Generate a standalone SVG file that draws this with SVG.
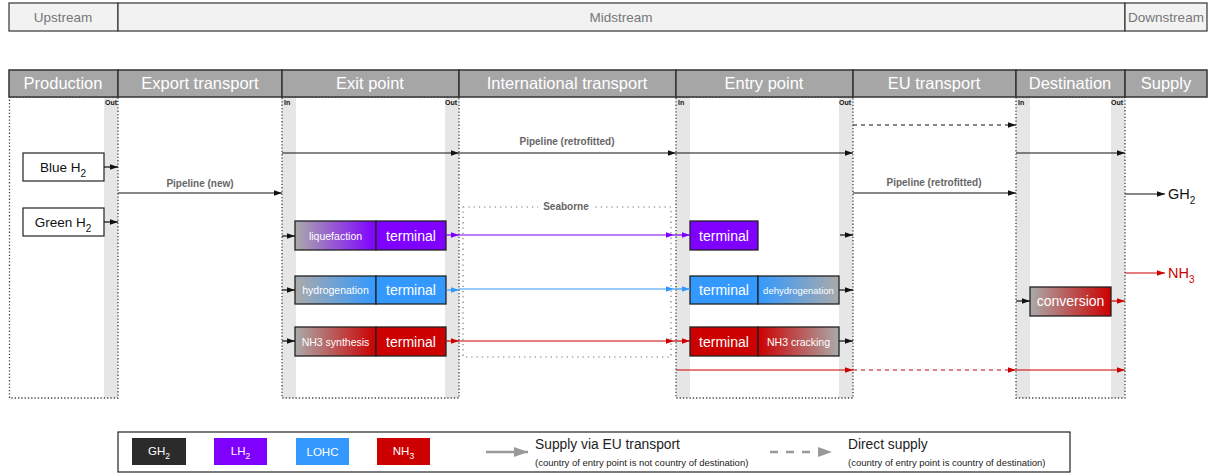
<svg xmlns="http://www.w3.org/2000/svg" width="1208" height="475" viewBox="0 0 1208 475">
<style>
text{font-family:"Liberation Sans",Arial,sans-serif}
.top{fill:#f2f2f2;stroke:#333;stroke-width:1.2}
.topt{font-size:13.5px;fill:#777;text-anchor:middle}
.hdr{fill:#a6a6a6;stroke:#333;stroke-width:1.5}
.hdrt{font-size:16.5px;fill:#fff;text-anchor:middle}
.col{fill:none;stroke:#444;stroke-width:1.3;stroke-dasharray:1.3 2}
.bar{fill:#e6e6e6}
.io{font-size:7px;font-weight:bold;fill:#111}
.node{stroke:#222;stroke-width:1.3}
.nt{fill:#fff;text-anchor:middle}
.big{font-size:14px}
.sm{font-size:10.5px}
.blk{stroke:#111;stroke-width:1.2;fill:none}
.pur{stroke:#7f00ff;stroke-width:1.2;fill:none}
.blu{stroke:#3399ff;stroke-width:1.2;fill:none}
.red{stroke:#cc0000;stroke-width:1.2;fill:none}
.dash{stroke-dasharray:4 4}
.lbl{font-size:10px;font-weight:bold;fill:#666;text-anchor:middle}
.prod{fill:#fff;stroke:#222;stroke-width:1.2}
.prodt{font-size:13.5px;fill:#111;text-anchor:middle}
</style>
<defs>
<marker id="aB" viewBox="0 0 10 10" refX="10" refY="5" markerWidth="8" markerHeight="8" markerUnits="userSpaceOnUse" orient="auto"><path d="M0,1.5 L10,5 L0,8.5 z" fill="#111"/></marker>
<marker id="aP" viewBox="0 0 10 10" refX="10" refY="5" markerWidth="8" markerHeight="8" markerUnits="userSpaceOnUse" orient="auto"><path d="M0,1.5 L10,5 L0,8.5 z" fill="#7f00ff"/></marker>
<marker id="aL" viewBox="0 0 10 10" refX="10" refY="5" markerWidth="8" markerHeight="8" markerUnits="userSpaceOnUse" orient="auto"><path d="M0,1.5 L10,5 L0,8.5 z" fill="#3399ff"/></marker>
<marker id="aR" viewBox="0 0 10 10" refX="10" refY="5" markerWidth="8" markerHeight="8" markerUnits="userSpaceOnUse" orient="auto"><path d="M0,1.5 L10,5 L0,8.5 z" fill="#cc0000"/></marker>
<marker id="aG" viewBox="0 0 10 10" refX="10" refY="5" markerWidth="14" markerHeight="14" markerUnits="userSpaceOnUse" orient="auto"><path d="M0,1.5 L10,5 L0,8.5 z" fill="#999"/></marker>
<linearGradient id="gP" x1="0" x2="1" y1="0" y2="0"><stop offset="0" stop-color="#aaa"/><stop offset="1" stop-color="#7f00ff"/></linearGradient>
<linearGradient id="gL" x1="0" x2="1" y1="0" y2="0"><stop offset="0" stop-color="#aaa"/><stop offset="1" stop-color="#3399ff"/></linearGradient>
<linearGradient id="gR" x1="0" x2="1" y1="0" y2="0"><stop offset="0" stop-color="#aaa"/><stop offset="1" stop-color="#cc0000"/></linearGradient>
<linearGradient id="gLr" x1="0" x2="1" y1="0" y2="0"><stop offset="0" stop-color="#3399ff"/><stop offset="1" stop-color="#aaa"/></linearGradient>
<linearGradient id="gRr" x1="0" x2="1" y1="0" y2="0"><stop offset="0" stop-color="#cc0000"/><stop offset="1" stop-color="#aaa"/></linearGradient>
</defs>

<g id="stages">
<rect class="top" x="9" y="3" width="109" height="28"/>
<rect class="top" x="118" y="3" width="1007" height="28"/>
<rect class="top" x="1125" y="3" width="82" height="28"/>
<text class="topt" x="63" y="22">Upstream</text>
<text class="topt" x="621" y="22">Midstream</text>
<text class="topt" x="1166" y="22">Downstream</text>
</g>

<g id="columns">
<rect class="bar" x="104" y="97" width="14" height="301"/>
<rect class="bar" x="282" y="97" width="14" height="301"/>
<rect class="bar" x="445" y="97" width="14" height="301"/>
<rect class="bar" x="676" y="97" width="14" height="301"/>
<rect class="bar" x="839" y="97" width="14" height="301"/>
<rect class="bar" x="1016" y="97" width="14" height="301"/>
<rect class="bar" x="1111" y="97" width="14" height="301"/>
<rect class="col" x="9.5" y="97" width="108.5" height="301"/>
<rect class="col" x="282" y="97" width="177" height="301"/>
<rect class="col" x="676" y="97" width="177" height="301"/>
<rect class="col" x="1016" y="97" width="109" height="301"/>
<text class="io" x="105" y="105">Out</text>
<text class="io" x="284" y="105">In</text>
<text class="io" x="445" y="105">Out</text>
<text class="io" x="678" y="105">In</text>
<text class="io" x="839" y="105">Out</text>
<text class="io" x="1018" y="105">In</text>
<text class="io" x="1111" y="105">Out</text>
<rect class="hdr" x="9" y="70" width="109" height="27"/>
<rect class="hdr" x="118" y="70" width="164" height="27"/>
<rect class="hdr" x="282" y="70" width="177" height="27"/>
<rect class="hdr" x="459" y="70" width="217" height="27"/>
<rect class="hdr" x="676" y="70" width="177" height="27"/>
<rect class="hdr" x="853" y="70" width="163" height="27"/>
<rect class="hdr" x="1016" y="70" width="109" height="27"/>
<rect class="hdr" x="1125" y="70" width="82" height="27"/>
<text class="hdrt" x="63" y="89">Production</text>
<text class="hdrt" x="200" y="89">Export transport</text>
<text class="hdrt" x="370" y="89">Exit point</text>
<text class="hdrt" x="567" y="89">International transport</text>
<text class="hdrt" x="764" y="89">Entry point</text>
<text class="hdrt" x="934" y="89">EU transport</text>
<text class="hdrt" x="1070" y="89">Destination</text>
<text class="hdrt" x="1166" y="89">Supply</text>
</g>

<g id="seaborne">
<rect x="463" y="207" width="208" height="150" fill="none" stroke="#777" stroke-width="1.2" stroke-dasharray="1.3 4"/>
<rect x="538" y="200" width="56" height="13" fill="#fff"/>
<text class="lbl" x="566" y="210">Seaborne</text>
</g>

<g id="blue-h2">
<rect class="prod" x="23" y="153" width="81" height="28"/>
<text class="prodt" x="63" y="172">Blue H<tspan font-size="10" dy="5">2</tspan></text>
</g>
<g id="green-h2">
<rect class="prod" x="23" y="208" width="81" height="28"/>
<text class="prodt" x="63" y="227">Green H<tspan font-size="10" dy="5">2</tspan></text>
</g>

<g id="liquefaction-terminal">
<rect class="node" x="295" y="221" width="81" height="29" fill="url(#gP)"/>
<rect class="node" x="376" y="221" width="70" height="29" fill="#7f00ff"/>
<text class="nt sm" x="335.5" y="239.5">liquefaction</text>
<text class="nt big" x="411" y="240.5">terminal</text>
</g>
<g id="hydrogenation-terminal">
<rect class="node" x="295" y="276" width="81" height="28" fill="url(#gL)"/>
<rect class="node" x="376" y="276" width="70" height="28" fill="#3399ff"/>
<text class="nt sm" x="335.5" y="294">hydrogenation</text>
<text class="nt big" x="411" y="295">terminal</text>
</g>
<g id="nh3-synthesis-terminal">
<rect class="node" x="295" y="327" width="81" height="29" fill="url(#gR)"/>
<rect class="node" x="376" y="327" width="70" height="29" fill="#cc0000"/>
<text class="nt sm" x="335.5" y="345.5">NH3 synthesis</text>
<text class="nt big" x="411" y="346.5">terminal</text>
</g>

<g id="entry-lh2-terminal">
<rect class="node" x="690" y="221" width="68" height="29" fill="#7f00ff"/>
<text class="nt big" x="724" y="240.5">terminal</text>
</g>
<g id="entry-lohc-terminal">
<rect class="node" x="690" y="276" width="68" height="28" fill="#3399ff"/>
<rect class="node" x="758" y="276" width="81" height="28" fill="url(#gLr)"/>
<text class="nt big" x="724" y="295">terminal</text>
<text class="nt" font-size="9.5" x="798.5" y="293.5">dehydrogenation</text>
</g>
<g id="entry-nh3-terminal">
<rect class="node" x="690" y="327" width="68" height="29" fill="#cc0000"/>
<rect class="node" x="758" y="327" width="81" height="29" fill="url(#gRr)"/>
<text class="nt big" x="724" y="346.5">terminal</text>
<text class="nt sm" x="798.5" y="345.5">NH3 cracking</text>
</g>

<g id="conversion">
<rect class="node" x="1030" y="287" width="81" height="29" fill="url(#gR)"/>
<text class="nt big" x="1070.5" y="306">conversion</text>
</g>

<g id="supply-labels">
<text x="1168" y="199" font-size="14.5" fill="#111">GH<tspan font-size="10" dy="5">2</tspan></text>
<text x="1168" y="278" font-size="14.5" fill="#cc0000">NH<tspan font-size="10" dy="5">3</tspan></text>
</g>

<g id="connectors">
<line class="blk" x1="104" y1="167" x2="118" y2="167" marker-end="url(#aB)"/>
<line class="blk" x1="104" y1="222" x2="118" y2="222" marker-end="url(#aB)"/>
<line class="blk" x1="118" y1="193" x2="282" y2="193" marker-end="url(#aB)"/>
<text class="lbl" x="200" y="187">Pipeline (new)</text>
<line class="blk" x1="282" y1="153" x2="459" y2="153" marker-end="url(#aB)"/>
<line class="blk" x1="459" y1="153" x2="676" y2="153" marker-end="url(#aB)"/>
<text class="lbl" x="567" y="145">Pipeline (retrofitted)</text>
<line class="blk" x1="676" y1="153" x2="853" y2="153" marker-end="url(#aB)"/>
<line class="blk dash" x1="853" y1="125" x2="1016" y2="125" marker-end="url(#aB)"/>
<line class="blk" x1="1016" y1="153" x2="1125" y2="153" marker-end="url(#aB)"/>
<line class="blk" x1="853" y1="193" x2="1016" y2="193" marker-end="url(#aB)"/>
<text class="lbl" x="934" y="186">Pipeline (retrofitted)</text>
<line class="blk" x1="1125" y1="194" x2="1165" y2="194" marker-end="url(#aB)"/>
<line class="blk" x1="282" y1="236" x2="295" y2="236" marker-end="url(#aB)"/>
<line class="blk" x1="282" y1="290" x2="295" y2="290" marker-end="url(#aB)"/>
<line class="blk" x1="282" y1="341" x2="295" y2="341" marker-end="url(#aB)"/>
<line class="pur" x1="446" y1="235" x2="459" y2="235" marker-end="url(#aP)"/>
<line class="pur" x1="459" y1="235" x2="674" y2="235" marker-end="url(#aP)"/>
<line class="pur" x1="674" y1="235" x2="690" y2="235" marker-end="url(#aP)"/>
<line class="blu" x1="446" y1="290" x2="459" y2="290" marker-end="url(#aL)"/>
<line class="blu" x1="459" y1="289" x2="674" y2="289" marker-end="url(#aL)"/>
<line class="blu" x1="674" y1="289" x2="690" y2="289" marker-end="url(#aL)"/>
<line class="red" x1="446" y1="341" x2="459" y2="341" marker-end="url(#aR)"/>
<line class="red" x1="459" y1="341" x2="674" y2="341" marker-end="url(#aR)"/>
<line class="red" x1="674" y1="341" x2="690" y2="341" marker-end="url(#aR)"/>
<line class="blk" x1="840" y1="235" x2="853" y2="235" marker-end="url(#aB)"/>
<line class="blk" x1="839" y1="290" x2="853" y2="290" marker-end="url(#aB)"/>
<line class="blk" x1="839" y1="341" x2="853" y2="341" marker-end="url(#aB)"/>
<line class="red" x1="676" y1="370" x2="853" y2="370" marker-end="url(#aR)"/>
<line class="red dash" x1="853" y1="370" x2="1016" y2="370" marker-end="url(#aR)"/>
<line class="red" x1="1016" y1="370" x2="1125" y2="370" marker-end="url(#aR)"/>
<line class="blk" x1="1016" y1="301" x2="1030" y2="301" marker-end="url(#aB)"/>
<line class="red" x1="1111" y1="301" x2="1125" y2="301" marker-end="url(#aR)"/>
<line class="red" x1="1125" y1="273" x2="1165" y2="273" marker-end="url(#aR)"/>
</g>

<g id="legend">
<rect x="118" y="432" width="952" height="40" fill="#fff" stroke="#222" stroke-width="1.2"/>
<rect x="132" y="438" width="54" height="27" fill="#2b2b2b"/>
<text class="nt" font-size="11.5" x="159" y="455">GH<tspan font-size="8.5" dy="3.5">2</tspan></text>
<rect x="214" y="438" width="53" height="27" fill="#7f00ff"/>
<text class="nt" font-size="11.5" x="240.5" y="455">LH<tspan font-size="8.5" dy="3.5">2</tspan></text>
<rect x="296" y="438" width="53" height="27" fill="#3399ff"/>
<text class="nt" font-size="11.5" x="322.5" y="456">LOHC</text>
<rect x="377" y="438" width="53" height="27" fill="#cc0000"/>
<text class="nt" font-size="11.5" x="403.5" y="455">NH<tspan font-size="8.5" dy="3.5">3</tspan></text>
<line x1="486" y1="452" x2="528" y2="452" stroke="#999" stroke-width="2.5" marker-end="url(#aG)"/>
<text x="535" y="449" font-size="13.8" fill="#222">Supply via EU transport</text>
<text x="535" y="466" font-size="9.5" fill="#222">(country of entry point is not country of destination)</text>
<line x1="770" y1="452" x2="832" y2="452" stroke="#999" stroke-width="2.5" stroke-dasharray="8 8" marker-end="url(#aG)"/>
<text x="848" y="449" font-size="13.8" fill="#222">Direct supply</text>
<text x="848" y="466" font-size="9.5" fill="#222">(country of entry point is country of destination)</text>
</g>
</svg>
